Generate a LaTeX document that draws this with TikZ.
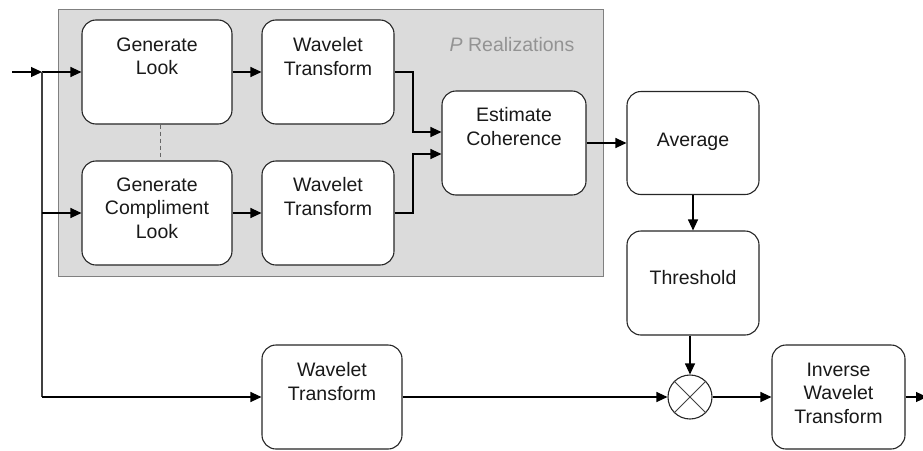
\documentclass[tikz,border=0pt]{standalone}
\usepackage{fontspec}
\setmainfont{Liberation Sans}
\usetikzlibrary{arrows.meta,calc}
\begin{document}
\begin{tikzpicture}[x=1pt,y=-1pt,
  blk/.style={draw=black!85, line width=1.1pt, fill=white, rounded corners=14pt, inner sep=0pt},
  lbl/.style={anchor=north, inner sep=0pt, align=center, font=\fontsize{19.5}{23.5}\selectfont, text=black!90},
  conn/.style={draw=black, line width=1.1pt},
  arr/.style={conn, -{Triangle[length=11pt,width=10pt]}}]
\useasboundingbox (0,0) rectangle (923,450);
% P realizations panel
\node[draw=gray, line width=1pt, fill=gray!28, minimum width=545pt, minimum height=267pt, inner sep=0pt] (P) at (330.5,142.5) {};
\node[lbl, text=gray!85] (pr) at (512,37.5) {\textit{P} Realizations};
% boxes
\node[blk, minimum width=150pt, minimum height=104pt] (GL) at (157,72) {};
\node[blk, minimum width=132pt, minimum height=104pt] (WT1) at (328,72) {};
\node[blk, minimum width=150pt, minimum height=104pt] (GC) at (157,213) {};
\node[blk, minimum width=132pt, minimum height=104pt] (WT2) at (328,213) {};
\node[blk, minimum width=144pt, minimum height=104pt] (EC) at (514,143) {};
\node[blk, minimum width=132pt, minimum height=103pt] (AV) at (693,143) {};
\node[blk, minimum width=132pt, minimum height=104pt] (TH) at (693,283) {};
\node[blk, minimum width=140pt, minimum height=104pt] (BWT) at (332,397) {};
\node[blk, minimum width=133pt, minimum height=104pt] (IWT) at (838.5,397) {};
\node[draw=black!85, line width=1.1pt, fill=white, circle, minimum size=44pt, inner sep=0pt] (M) at (690,397) {};
\draw[black!75, line width=0.9pt] (M.north west) -- (M.south east) (M.north east) -- (M.south west);
% labels
\node[lbl] (tGL) at (157,37.5) {Generate\\Look};
\node[lbl] (tWT1) at (328,37.5) {Wavelet\\Transform};
\node[lbl] (tGC) at (157,177.5) {Generate\\Compliment\\Look};
\node[lbl] (tWT2) at (328,177.5) {Wavelet\\Transform};
\node[lbl] (tEC) at (514,107.5) {Estimate\\Coherence};
\node[lbl] (tAV) at (693,132.5) {Average};
\node[lbl] (tTH) at (693,270.5) {Threshold};
\node[lbl] (tBWT) at (332,362.5) {Wavelet\\Transform};
\node[lbl] (tIWT) at (838.5,362.5) {Inverse\\Wavelet\\Transform};
% coordinates
\coordinate (in) at (12,72);
\coordinate (j1) at (42,72);
\coordinate (j2) at (42,213);
\coordinate (j3) at (42,397);
\coordinate (c1) at (413,72);
\coordinate (c2) at (413,213);
\coordinate (out) at (927,397);
% connectors
\draw[arr] (in) -- (j1);
\draw[arr] (j1) -- (GL.west);
\draw[conn, draw=black!75] (j1) -- (j3);
\draw[arr] (j2) -- (GC.west);
\draw[arr] (j3) -- (BWT.west);
\draw[arr] (GL.east) -- (WT1.west);
\draw[arr] (GC.east) -- (WT2.west);
\draw[arr] (WT1.east) -- (c1) |- ([yshift=11pt]EC.west);
\draw[arr] (WT2.east) -- (c2) |- ([yshift=-11pt]EC.west);
\draw[arr] (EC.east) -- (AV.west);
\draw[arr] (AV.south) -- (TH.north);
\draw[arr] (M.north |- TH.south) -- (M.north);
\draw[arr] (BWT.east) -- (M.west);
\draw[arr] (M.east) -- (IWT.west);
\draw[arr] (IWT.east) -- (out);
\draw[black!60, line width=1pt, dash pattern=on 4pt off 3pt] ([xshift=3pt]GL.south) -- ([xshift=3pt]GC.north);
\end{tikzpicture}
\end{document}
